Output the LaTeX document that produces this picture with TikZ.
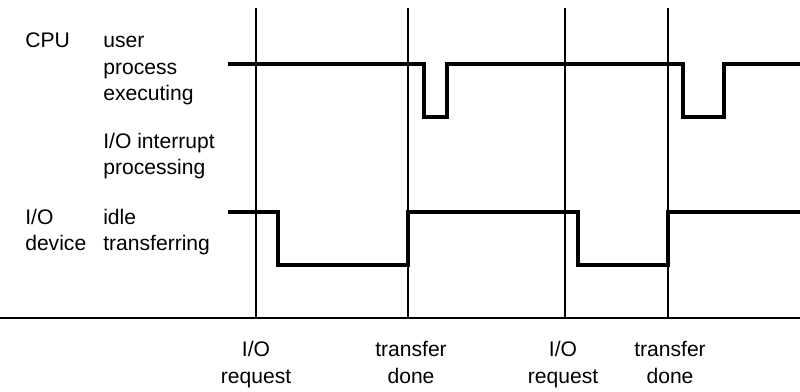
\documentclass[tikz,border=0pt]{standalone}
\usepackage{fontspec}
\setmainfont{Liberation Sans}
\usetikzlibrary{positioning}

\begin{document}
\begin{tikzpicture}[x=0.025cm, y=-0.025cm,
    every node/.style={font=\fontsize{15}{19}\selectfont, inner sep=0pt},
    lbl/.style={anchor=base west, align=left},
    evt/.style={align=center, anchor=base},
    signal/.style={line width=2.8pt, line join=miter},
    marker/.style={line width=1pt}]
    \useasboundingbox (0,0) rectangle (800,392);

    % Events
    \coordinate (req1) at (256,8);
    \coordinate (done1) at (408,8);
    \coordinate (req2) at (565,8);
    \coordinate (done2) at (668,8);

    % Time axis
    \draw[line width=1.8pt] (0,318) -- (800,318);
    \foreach \e in {req1, done1, req2, done2} {
        \draw[marker] (\e) -- (\e |- 0,318);
    }

    % Row labels (base = last line)
    \node[lbl] (cpu) at (25,48) {CPU};
    \node[lbl] (user) at (103,101) {user\\process\\executing};
    \node[lbl] (intr) at (103,175) {I/O interrupt\\processing};
    \node[lbl] (dev) at (25,251) {I/O\\device};
    \node[lbl] (idle) at (103,251) {idle\\transferring};

    % CPU
    \draw[signal] (228,64) -- (424,64) -- (424,117) -- (447,117) -- (447,64)
        -- (683,64) -- (683,117) -- (724,117) -- (724,64) -- (800,64);

    % I/O device
    \draw[signal] (228,212) -- (278,212) -- (278,265) -- (408,265) -- (408,212)
        -- (578,212) -- (578,265) -- (668,265) -- (668,212) -- (800,212);

    % Event labels
    \node[evt] (reqlbl1) at (256,383) {I/O\\request};
    \node[evt] (donelbl1) at (411,383) {transfer\\done};
    \node[evt] (reqlbl2) at (563,383) {I/O\\request};
    \node[evt] (donelbl2) at (670,383) {transfer\\done};
\end{tikzpicture}
\end{document}
